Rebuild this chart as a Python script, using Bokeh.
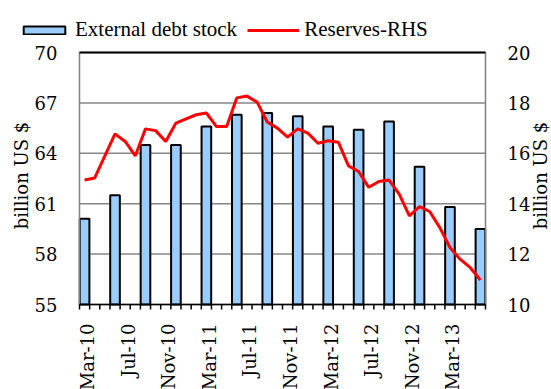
import math
from bokeh.plotting import figure
from bokeh.models import Range1d, Legend, LegendItem
from bokeh.core.properties import value
from bokeh.embed import file_html
from bokeh.resources import INLINE

months = ["Mar-10", "Apr-10", "May-10", "Jun-10", "Jul-10", "Aug-10", "Sep-10", "Oct-10",
          "Nov-10", "Dec-10", "Jan-11", "Feb-11", "Mar-11", "Apr-11", "May-11", "Jun-11",
          "Jul-11", "Aug-11", "Sep-11", "Oct-11", "Nov-11", "Dec-11", "Jan-12", "Feb-12",
          "Mar-12", "Apr-12", "May-12", "Jun-12", "Jul-12", "Aug-12", "Sep-12", "Oct-12",
          "Nov-12", "Dec-12", "Jan-13", "Feb-13", "Mar-13", "Apr-13", "May-13", "Jun-13"]

reserves = [14.94, 15.02, 15.9, 16.77, 16.47, 15.9, 16.97, 16.9, 16.47, 17.2,
            17.37, 17.53, 17.6, 17.06, 17.06, 18.2, 18.27, 18.03, 17.24, 17.0,
            16.64, 16.97, 16.8, 16.4, 16.5, 16.44, 15.5, 15.28, 14.65, 14.88,
            14.94, 14.38, 13.52, 13.88, 13.69, 13.05, 12.26, 11.8, 11.46, 10.97]

debt_months = ["Mar-10", "Jun-10", "Sep-10", "Dec-10", "Mar-11", "Jun-11", "Sep-11",
               "Dec-11", "Mar-12", "Jun-12", "Sep-12", "Dec-12", "Mar-13", "Jun-13"]
debt = [60.1, 61.5, 64.5, 64.5, 65.6, 66.3, 66.4, 66.2, 65.6, 65.4, 65.9, 63.2, 60.8, 59.5]

tick_labels = ["Mar-10", "Jul-10", "Nov-10", "Mar-11", "Jul-11", "Nov-11",
               "Mar-12", "Jul-12", "Nov-12", "Mar-13"]
left_ticks = [55, 58, 61, 64, 67, 70]
right_ticks = [10, 12, 14, 16, 18, 20]
axis_title = "billion US $"
series_names = ["External debt stock", "Reserves-RHS"]

FONT = value("DejaVu Serif")
FS = value("18px")
BAR_FILL = "#99CCFF"
LINE_COLOR = "#FF0000"
GRID = "#868686"

# page / plot-area geometry in pixels
W, H = 551, 389
FL, FR, FT, FB = 79, 485, 52, 304

n = len(months)
x_month = list(range(n))
x_debt = [months.index(m) for m in debt_months]
x_ticks = [months.index(m) for m in tick_labels]

lo, hi = left_ticks[0], left_ticks[-1]
rlo, rhi = right_ticks[0], right_ticks[-1]
PXX = (FR - FL) / n
PXY = (FB - FT) / (hi - lo)
PXR = (FB - FT) / (rhi - rlo)
XS, XE = -0.5 - FL / PXX, n - 0.5 + (W - FR) / PXX
YS, YE = lo - (H - FB) / PXY, hi + FT / PXY
RS, RE = rlo - (H - FB) / PXR, rhi + FT / PXR


def px_x(px):
    return XS + px / PXX


def px_y(py):
    return YE - py / PXY


p = figure(width=W, height=H, output_backend="svg", toolbar_location=None,
           x_range=Range1d(XS, XE), y_range=Range1d(YS, YE),
           x_axis_type=None, y_axis_type=None, title=None,
           min_border_left=0, min_border_right=0, min_border_top=0, min_border_bottom=0)
p.extra_y_ranges = {"right": Range1d(RS, RE)}
p.outline_line_color = None
p.background_fill_color = "white"
p.border_fill_color = "white"
p.xgrid.visible = False
p.ygrid.visible = False

x_lo, x_hi = -0.5, n - 0.5

# horizontal gridlines
p.segment(x0=[x_lo] * len(left_ticks), x1=[x_hi] * len(left_ticks),
          y0=left_ticks, y1=left_ticks, line_color=GRID, line_width=1.5)

# bars and line
bars = p.vbar(x=x_debt, top=debt, bottom=lo, width=0.95, fill_color=BAR_FILL,
              line_color="black", line_width=2)
line = p.line(x=x_month, y=reserves, y_range_name="right", line_color=LINE_COLOR,
              line_width=3)

# plot-area border: grey sides, black top, black category axis
p.segment(x0=[x_lo, x_hi], x1=[x_lo, x_hi], y0=[lo, lo], y1=[hi, hi],
          line_color="#808080", line_width=1.5)
p.segment(x0=[x_lo], x1=[x_hi], y0=[hi], y1=[hi], line_color="black", line_width=2)
p.segment(x0=[x_lo], x1=[x_hi], y0=[lo], y1=[lo], line_color="black", line_width=1.5)

# category-axis tick marks between months
bounds = [i - 0.5 for i in range(n + 1)]
p.segment(x0=bounds, x1=bounds, y0=[lo] * len(bounds), y1=[px_y(FB + 5)] * len(bounds),
          line_color="black", line_width=1.5)

# tick labels
p.text(x=[px_x(FL - 22)] * len(left_ticks), y=left_ticks, text=[str(t) for t in left_ticks],
       text_align="right", text_baseline="middle", text_font=FONT, text_font_size=FS,
       text_color="black")
p.text(x=[px_x(FR + 22)] * len(right_ticks), y=right_ticks, text=[str(t) for t in right_ticks],
       y_range_name="right", text_align="left", text_baseline="middle", text_font=FONT,
       text_font_size=FS, text_color="black")
p.text(x=x_ticks, y=[px_y(FB + 19)] * len(x_ticks), text=tick_labels, angle=math.pi / 2,
       x_offset=3, text_align="right", text_baseline="middle", text_font=FONT,
       text_font_size=FS, text_color="black")

# axis titles
p.text(x=[px_x(21), px_x(540)], y=[px_y(175), px_y(175)], text=[axis_title, axis_title],
       angle=math.pi / 2, text_align="center", text_baseline="middle", text_font=FONT,
       text_font_size=FS, text_color="black")

legend = Legend(items=[LegendItem(label=series_names[0], renderers=[bars]),
                       LegendItem(label=series_names[1], renderers=[line])],
                location=(18, H - 42), orientation="horizontal")
legend.glyph_width = 52
legend.glyph_height = 10
legend.label_standoff = 5
legend.spacing = 10
legend.padding = 0
legend.margin = 0
legend.border_line_color = None
legend.background_fill_alpha = 0
legend.label_text_font = "Liberation Serif"
legend.label_text_font_size = "21px"
legend.label_text_color = "black"
p.add_layout(legend, "center")

open("out.html", "w").write(file_html(p, INLINE))
